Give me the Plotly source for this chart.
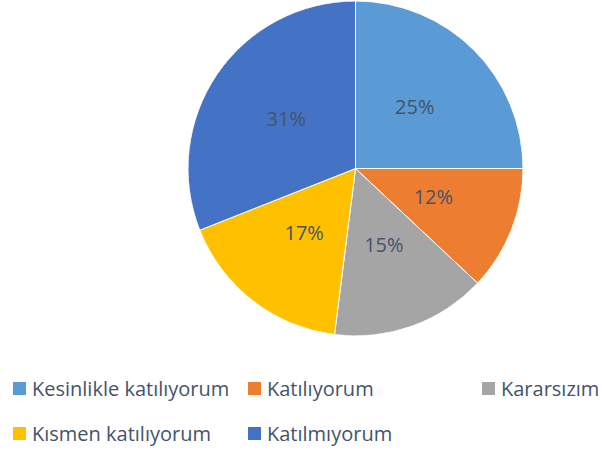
import plotly.graph_objects as go

# Survey responses (share of respondents, %)
labels = ["Kesinlikle katılıyorum", "Katılıyorum", "Kararsızım",
          "Kısmen katılıyorum", "Katılmıyorum"]
values = [25, 12, 15, 17, 31]
colors = ["#5B9BD5", "#ED7D31", "#A5A5A5", "#FFC000", "#4472C4"]

W, H = 602, 452
text_color = "#44546A"
font_family = "'Open Sans', sans-serif"

# pie occupies a square area in the upper part of the canvas
pie_dom = dict(x=[188 / W, 523 / W], y=[1 - 336 / H, 1 - 1 / H])

# slice geometry in degrees, clockwise from 12 o'clock
total = sum(values)
widths = [v / total * 360 for v in values]
mid_angles = []
acc = 0
for v in values:
    mid_angles.append((acc + v / 2) / total * 360)
    acc += v

fig = go.Figure()

# slices as full-radius polar wedges
fig.add_trace(go.Barpolar(
    r=[1] * len(values),
    theta=mid_angles,
    width=widths,
    marker=dict(color=colors, line=dict(color="white", width=1)),
    customdata=labels,
    hovertemplate="%{customdata}<extra></extra>",
    showlegend=False,
))

# percentage labels placed halfway out along each slice's bisector
fig.add_trace(go.Scatterpolar(
    r=[0.5] * len(values),
    theta=mid_angles,
    mode="text",
    text=[f"{v}%" for v in values],
    textposition="middle center",
    textfont=dict(family=font_family, size=20, color=text_color),
    hoverinfo="skip",
    showlegend=False,
))

fig.update_layout(
    width=W, height=H,
    margin=dict(l=0, r=0, t=0, b=0),
    paper_bgcolor="white",
    plot_bgcolor="white",
    showlegend=False,
    bargap=0,
    polar=dict(
        domain=pie_dom,
        bgcolor="rgba(0,0,0,0)",
        bargap=0,
        radialaxis=dict(visible=False, range=[0, 1]),
        angularaxis=dict(visible=False, rotation=90, direction="clockwise"),
    ),
)

# legend: two rows, three fixed-width columns
col_x = [13, 248, 482]
row_y = [388.5, 433.5]
sq = 13
for i, (lab, col) in enumerate(zip(labels, colors)):
    r, c = divmod(i, 3)
    x0 = col_x[c]
    yc = row_y[r]
    fig.add_shape(
        type="rect", xref="paper", yref="paper",
        x0=x0 / W, x1=(x0 + sq) / W,
        y0=1 - (yc + sq / 2) / H, y1=1 - (yc - sq / 2) / H,
        fillcolor=col, line=dict(width=0),
    )
    fig.add_annotation(
        xref="paper", yref="paper",
        x=(x0 + sq + 4) / W, y=1 - yc / H,
        xanchor="left", yanchor="middle",
        text=lab, showarrow=False,
        font=dict(family=font_family, size=20, color=text_color),
    )

fig.write_html("out.html")
